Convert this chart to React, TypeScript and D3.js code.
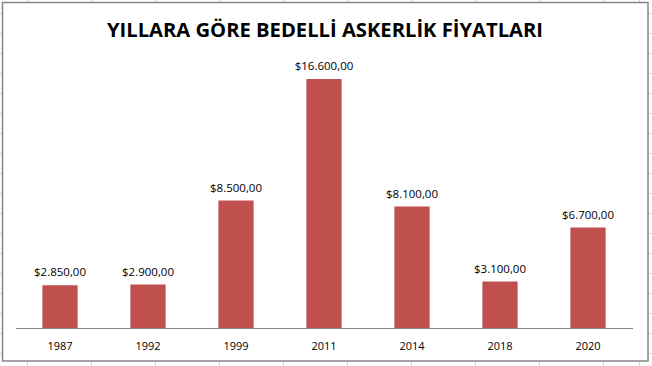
import React from "react";
import * as d3 from "d3";

const years = ["1987", "1992", "1999", "2011", "2014", "2018", "2020"];
const prices = [2850, 2900, 8500, 16600, 8100, 3100, 6700];
const title = "YILLARA GÖRE BEDELLİ ASKERLİK FİYATLARI";

const W = 652;
const H = 366;

function fmt(v: number) {
  const int = Math.floor(v).toString().replace(/\B(?=(\d{3})+(?!\d))/g, ".");
  return "$" + int + ",00";
}

export default function App() {
  const x = d3
    .scaleBand<string>()
    .domain(years)
    .range([16, 632])
    .paddingInner(0.6)
    .paddingOuter(0.3);
  const y = d3.scaleLinear().domain([0, 18000]).range([328, 58]);

  const sheetCols = [27, 91, 155, 219, 283, 347, 411, 475, 539, 603, 639];
  const sheetRows = d3.range(13, 366, 20);

  return (
    <svg
      width={W}
      height={H}
      style={{ position: "absolute", left: 0, top: 0, background: "#fff" }}
      fontFamily="'Open Sans', sans-serif"
    >
      {sheetCols.map((c) => (
        <line key={"c" + c} x1={c + 0.5} x2={c + 0.5} y1={0} y2={H} stroke="#d4d4d4" />
      ))}
      {sheetRows.map((r) => (
        <line key={"r" + r} x1={0} x2={W} y1={r + 0.5} y2={r + 0.5} stroke="#d4d4d4" />
      ))}
      <rect x={2.5} y={2.5} width={645.5} height={358.5} fill="#fff" stroke="#868686" strokeWidth={1.5} />
      <text
        x={325}
        y={36.5}
        textAnchor="middle"
        fontSize={20.2}
        fontWeight="bold"
        fill="#000"
      >
        {title}
      </text>
      {years.map((yr, i) => (
        <g key={yr}>
          <rect
            x={x(yr)}
            y={y(prices[i])}
            width={x.bandwidth()}
            height={y(0) - y(prices[i])}
            fill="#C0504D"
          />
          <text
            x={(x(yr) as number) + x.bandwidth() / 2}
            y={y(prices[i]) - 9}
            textAnchor="middle"
            fontSize={11.5}
            fill="#000"
          >
            {fmt(prices[i])}
          </text>
          <text
            x={(x(yr) as number) + x.bandwidth() / 2}
            y={350}
            textAnchor="middle"
            fontSize={11}
            fill="#000"
          >
            {yr}
          </text>
        </g>
      ))}
      <line x1={16} x2={633} y1={328.5} y2={328.5} stroke="#868686" strokeWidth={1} />
    </svg>
  );
}
